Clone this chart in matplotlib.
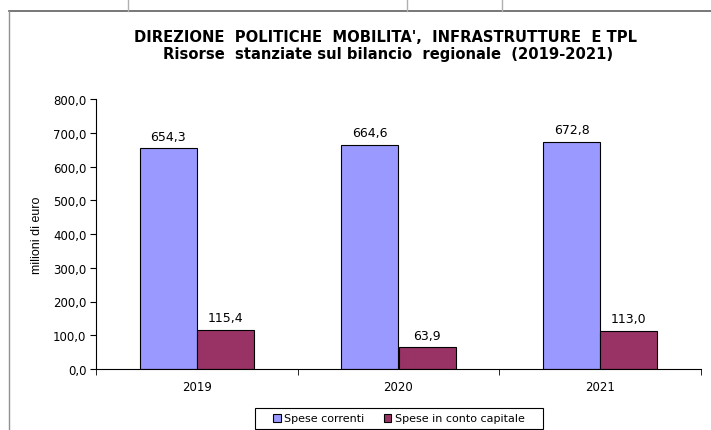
import matplotlib
matplotlib.use("Agg")
import matplotlib.pyplot as plt
import numpy as np
from matplotlib.lines import Line2D
from matplotlib.patches import Rectangle
from matplotlib.ticker import FuncFormatter, FixedLocator

years = ["2019", "2020", "2021"]
spese_correnti = [654.3, 664.6, 672.8]
spese_capitale = [115.4, 63.9, 113.0]
series_names = ["Spese correnti", "Spese in conto capitale"]
title_lines = ["DIREZIONE  POLITICHE  MOBILITA',  INFRASTRUTTURE  E TPL",
               "Risorse  stanziate sul bilancio  regionale  (2019-2021)"]

W, H = 711, 431
fig = plt.figure(figsize=(W / 100, H / 100), dpi=100)
ax = fig.add_axes([96 / W, 1 - 370 / H, (701 - 96) / W, (370 - 100) / H])

x = np.arange(len(years))
bw = 0.283
c1, c2 = "#9999FF", "#993366"
b1 = ax.bar(x - bw / 2, spese_correnti, bw, color=c1, edgecolor="black", linewidth=0.8, label=series_names[0])
b2 = ax.bar(x + bw / 2, spese_capitale, bw, color=c2, edgecolor="black", linewidth=0.8, label=series_names[1])

fmt = lambda v: f"{v:.1f}".replace(".", ",")
for bars, vals in ((b1, spese_correnti), (b2, spese_capitale)):
    for r, v in zip(bars, vals):
        ax.annotate(fmt(v), (r.get_x() + r.get_width() / 2, v), xytext=(0, 4),
                    textcoords="offset points", ha="center", va="bottom", fontsize=9)

ax.set_xlim(-0.5, len(years) - 0.5)
ax.set_ylim(0, 800)
ax.yaxis.set_major_locator(FixedLocator(np.arange(0, 801, 100)))
ax.yaxis.set_major_formatter(FuncFormatter(lambda v, p: fmt(v)))
ax.set_xticks(x)
ax.set_xticklabels(years)
ax.xaxis.set_minor_locator(FixedLocator(np.arange(-0.5, len(years), 1.0)))
ax.tick_params(axis="x", which="major", length=0, labelsize=8.5, pad=8)
ax.tick_params(axis="x", which="minor", length=4, direction="out")
ax.tick_params(axis="y", length=4, direction="out", labelsize=8.5, pad=3)
for s in ("top", "right"):
    ax.spines[s].set_visible(False)
ax.spines["left"].set_linewidth(0.8)
ax.spines["bottom"].set_linewidth(0.8)
ax.set_ylabel("milioni di euro", fontsize=9, family="Liberation Sans", labelpad=7)

fig.text(386 / W, 1 - 37 / H, title_lines[0], ha="center", va="center",
         fontsize=10.6, fontweight="bold")
fig.text(388 / W, 1 - 55 / H, title_lines[1], ha="center", va="center",
         fontsize=10.6, fontweight="bold")

leg = fig.legend(handles=[b1, b2], loc="center", bbox_to_anchor=(399 / W, 1 - 419.5 / H),
                 ncol=2, fontsize=8, frameon=False,
                 handlelength=0.7, handleheight=0.7, handletextpad=0.3, columnspacing=1.7,
                 borderpad=0.3)
fig.add_artist(Rectangle((255 / W, 1 - 430 / H), (543 - 255) / W, 21 / H,
                         transform=fig.transFigure, fill=False, edgecolor="black", lw=0.8))

# decorative sheet lines
fig.add_artist(Line2D([9 / W, 1], [1 - 12 / H, 1 - 12 / H], color="#606060", lw=1.2))
fig.add_artist(Line2D([9 / W, 9 / W], [0, 1 - 12 / H], color="#909090", lw=1.0))
for xv in (128, 407, 502):
    fig.add_artist(Line2D([xv / W, xv / W], [1 - 12 / H, 1], color="#b0b0b0", lw=1.0))

fig.savefig("out.png", dpi=100)
